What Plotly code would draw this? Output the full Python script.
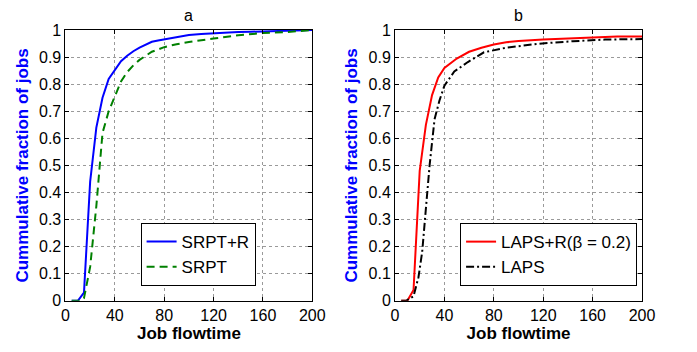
import plotly.graph_objects as go

# Panel a
srpt_r_x = [5, 10, 15, 20, 25, 30, 35, 40, 45, 50, 55, 60, 65, 70, 75, 80, 85, 90, 100, 110, 120, 130, 140, 150, 160, 170, 180, 190, 200]
srpt_r_y = [0, 0, 0.03, 0.44, 0.64, 0.75, 0.82, 0.855, 0.885, 0.905, 0.922, 0.935, 0.947, 0.957, 0.962, 0.966, 0.972, 0.976, 0.982, 0.986, 0.989, 0.991, 0.993, 0.994, 0.995, 0.996, 0.997, 0.998, 1.0]
srpt_x = [5, 10, 13, 15, 20, 25, 30, 35, 40, 45, 50, 55, 60, 70, 80, 90, 100, 110, 120, 140, 160, 180, 200]
srpt_y = [0, 0, 0, 0.01, 0.125, 0.35, 0.62, 0.70, 0.755, 0.81, 0.845, 0.87, 0.89, 0.92, 0.937, 0.948, 0.956, 0.963, 0.969, 0.981, 0.989, 0.993, 1.0]

# Panel b
laps_r_x = [5, 10, 15, 20, 25, 30, 35, 40, 50, 60, 70, 80, 90, 100, 120, 140, 160, 180, 200]
laps_r_y = [0, 0, 0.04, 0.48, 0.65, 0.76, 0.825, 0.86, 0.895, 0.92, 0.935, 0.947, 0.955, 0.96, 0.965, 0.969, 0.973, 0.976, 0.976]
laps_x = [5, 9, 15, 19, 22, 26, 28, 32, 36, 40, 48, 59, 72, 90, 117, 144, 170, 200]
laps_y = [0, 0, 0.017, 0.087, 0.18, 0.41, 0.5, 0.67, 0.74, 0.795, 0.847, 0.882, 0.918, 0.935, 0.95, 0.959, 0.965, 0.967]

x_ticks = [0, 40, 80, 120, 160, 200]
y_ticks = [0, 0.1, 0.2, 0.3, 0.4, 0.5, 0.6, 0.7, 0.8, 0.9, 1]
y_ticklabels = ["0", "0.1", "0.2", "0.3", "0.4", "0.5", "0.6", "0.7", "0.8", "0.9", "1"]

FONT = "Liberation Sans, Arial, sans-serif"

fig = go.Figure()
fig.add_trace(go.Scatter(x=srpt_r_x, y=srpt_r_y, mode="lines", name="SRPT+R",
                         line=dict(color="#0000ff", width=2), xaxis="x", yaxis="y", legend="legend"))
fig.add_trace(go.Scatter(x=srpt_x, y=srpt_y, mode="lines", name="SRPT",
                         line=dict(color="#008000", width=2, dash="8px,5px"), xaxis="x", yaxis="y", legend="legend"))
fig.add_trace(go.Scatter(x=laps_r_x, y=laps_r_y, mode="lines", name="LAPS+R(β = 0.2)",
                         line=dict(color="#ff0000", width=2), xaxis="x2", yaxis="y2", legend="legend2"))
fig.add_trace(go.Scatter(x=laps_x, y=laps_y, mode="lines", name="LAPS",
                         line=dict(color="#000000", width=2, dash="8px,3px,2px,3px"), xaxis="x2", yaxis="y2", legend="legend2"))

ax_common = dict(
    range=[0, 200], tickvals=x_ticks, ticks="inside", ticklen=4, tickcolor="black",
    showline=True, linecolor="black", linewidth=1, mirror="ticks",
    showgrid=True, gridcolor="#9a9a9a", griddash="dot", gridwidth=1,
    zeroline=False, tickfont=dict(size=16, color="black", family=FONT),
)
ay_common = dict(
    range=[0, 1], tickvals=y_ticks, ticktext=y_ticklabels, ticks="inside", ticklen=4, tickcolor="black",
    showline=True, linecolor="black", linewidth=1, mirror="ticks",
    showgrid=True, gridcolor="#9a9a9a", griddash="dot", gridwidth=1,
    zeroline=False, tickfont=dict(size=16, color="black", family=FONT),
)

xtitle = dict(text="<b>Job flowtime</b>", font=dict(size=17, color="black", family=FONT), standoff=0)
ytitle = dict(text="<b>Cummulative fraction of jobs</b>", font=dict(size=17, color="#0000ff", family=FONT), standoff=6)

legend_common = dict(xanchor="right", yanchor="top", bgcolor="white",
                     bordercolor="black", borderwidth=1, font=dict(size=17, family=FONT, color="black"),
                     tracegroupgap=0, itemwidth=30)

fig.update_layout(
    width=697, height=352,
    margin=dict(l=0, r=0, t=0, b=0),
    paper_bgcolor="white", plot_bgcolor="white",
    font=dict(family=FONT, color="black"),
    xaxis=dict(domain=[0.0904, 0.4534], anchor="y", title=xtitle, **ax_common),
    yaxis=dict(domain=[0.126, 0.934], anchor="x", title=ytitle, **ay_common),
    xaxis2=dict(domain=[0.575, 0.9383], anchor="y2", title=xtitle, **ax_common),
    yaxis2=dict(domain=[0.126, 0.934], anchor="x2", title=ytitle, **ay_common),
    legend=dict(x=0.370, y=0.358, **legend_common),
    legend2=dict(x=0.931, y=0.358, **legend_common),
    annotations=[
        dict(text="a", x=0.2719, y=0.977, xref="paper", yref="paper", showarrow=False,
             font=dict(size=16, family=FONT, color="black"), xanchor="center", yanchor="middle"),
        dict(text="b", x=0.7567, y=0.977, xref="paper", yref="paper", showarrow=False,
             font=dict(size=16, family=FONT, color="black"), xanchor="center", yanchor="middle"),
    ],
    showlegend=True,
)

fig.write_html("out.html")
